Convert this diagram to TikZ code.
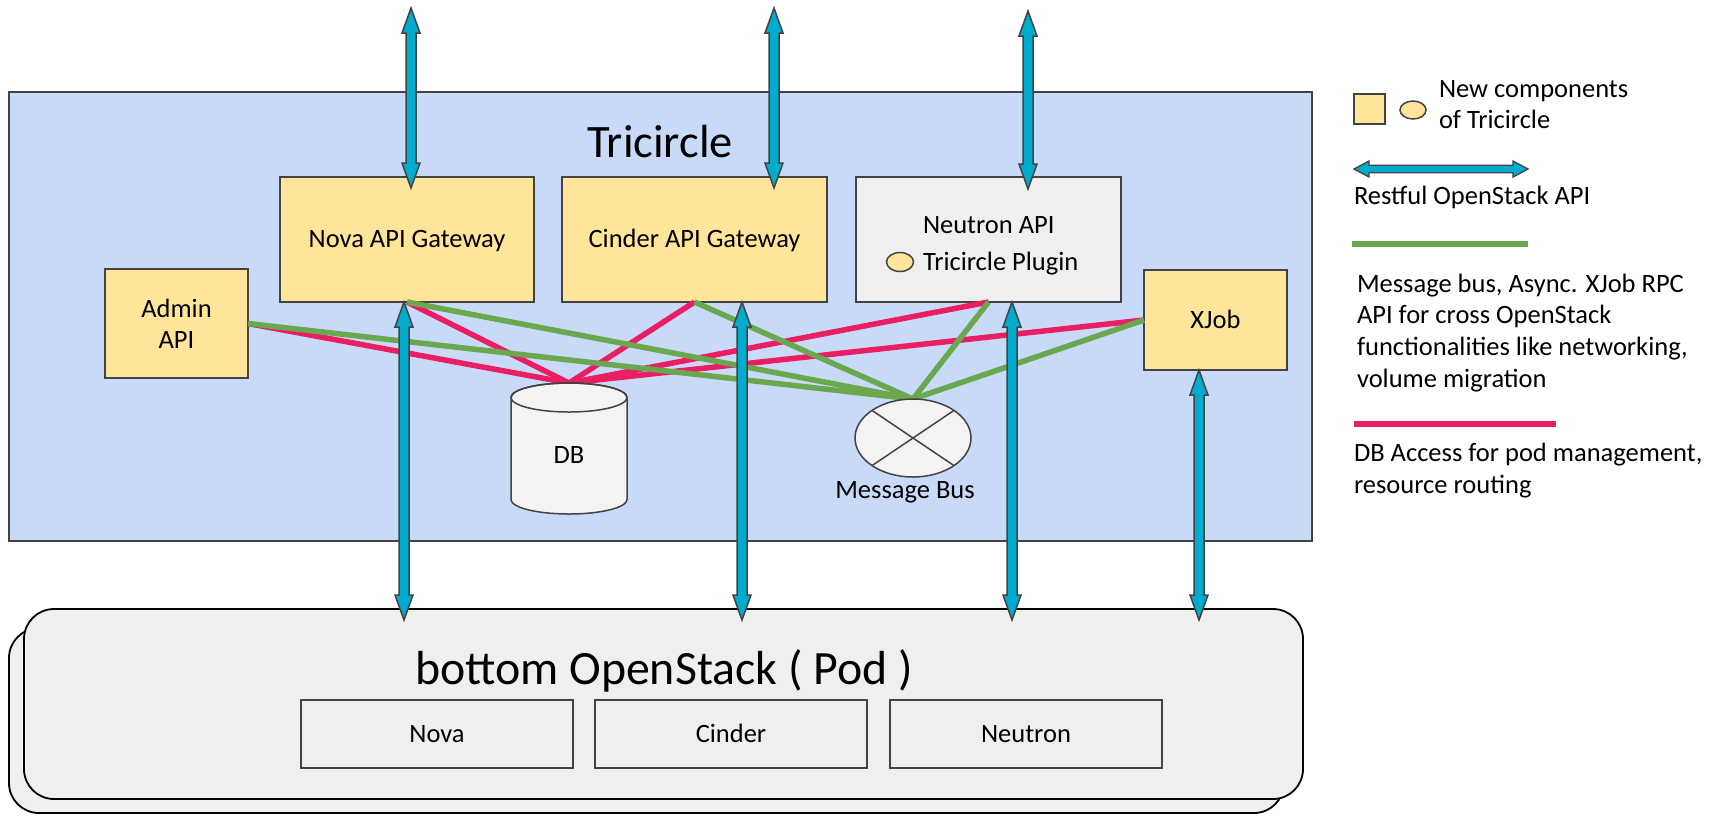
\documentclass[tikz,border=0pt]{standalone}
\usepackage{fontspec}
\setmainfont{Carlito}
\usetikzlibrary{calc,shapes.geometric}
\definecolor{bluebg}{HTML}{C9DAF8}
\definecolor{ylw}{HTML}{FFE599}
\definecolor{lgrey}{HTML}{EFEFEF}
\definecolor{dbgrey}{HTML}{F3F3F3}
\definecolor{edge}{HTML}{434343}
\definecolor{cyanA}{RGB}{0,172,205}
\definecolor{pinkL}{HTML}{E91E63}
\definecolor{greenL}{HTML}{6AA84F}
\newcommand{\fsm}{\fontsize{26.5}{32}\selectfont}
\newcommand{\fbg}{\fontsize{46.5}{56}\selectfont}
\newcommand{\fpod}{\fontsize{47.8}{57}\selectfont}
\begin{document}
\begin{tikzpicture}[x=1pt,y=-1pt,
  every node/.style={outer sep=0pt},
  box/.style={draw=edge, line width=1.8pt, inner sep=0pt, font=\fsm, text height=16.8pt, text depth=0pt},
  ybox/.style={box, fill=ylw},
  gbox/.style={box, fill=lgrey},
  txt/.style={inner sep=0pt, font=\fsm},
  bigtxt/.style={inner sep=0pt, font=\fbg},
  dbline/.style={draw=pinkL, line width=5.5pt},
  mbline/.style={draw=greenL, line width=5.5pt},
  apiarrow/.style={fill=cyanA, draw=edge, line width=1.5pt, line join=miter},
  vdbl/.style={to path={let \p1=(\tikztostart), \p2=(\tikztotarget) in
    (\x1,\y1) -- (\x1+9pt,\y1-25pt) -- (\x1+5pt,\y1-25pt) -- (\x1+5pt,\y2+25pt)
    -- (\x1+9pt,\y2+25pt) -- (\x1,\y2) -- (\x1-9pt,\y2+25pt) -- (\x1-5pt,\y2+25pt)
    -- (\x1-5pt,\y1-25pt) -- (\x1-9pt,\y1-25pt) -- cycle}},
  hdbl/.style={to path={let \p1=(\tikztostart), \p2=(\tikztotarget) in
    (\x1,\y1) -- (\x1+15pt,\y1+8pt) -- (\x1+15pt,\y1+3.7pt) -- (\x2-15pt,\y1+3.7pt)
    -- (\x2-15pt,\y1+8pt) -- (\x2,\y1) -- (\x2-15pt,\y1-8pt) -- (\x2-15pt,\y1-3.7pt)
    -- (\x1+15pt,\y1-3.7pt) -- (\x1+15pt,\y1-8pt) -- cycle}}
]
\useasboundingbox (0,0) rectangle (1721,815);
\fill[white] (0,0) rectangle (1721,815);

% main Tricircle area
\node[draw=edge, line width=1.5pt, fill=bluebg, minimum width=1303pt, minimum height=449pt] (tri) at (660.5,316.5) {};
\node[bigtxt, anchor=base] (trititle) at (660,157) {Tricircle};

% bottom pod
\node[draw=black, line width=1.8pt, fill=lgrey, rounded corners=30pt, minimum width=1275pt, minimum height=185pt] (podback) at (646.5,720.5) {};
\node[draw=black, line width=1.8pt, fill=lgrey, rounded corners=30pt, minimum width=1279pt, minimum height=190pt] (pod) at (663.5,704) {};
\node[inner sep=0pt, font=\fpod, anchor=base] (podtitle) at (664,684) {bottom OpenStack ( Pod )};
\node[gbox, minimum width=272pt, minimum height=68pt] (pnova) at (437,734) {Nova};
\node[gbox, minimum width=272pt, minimum height=68pt] (pcinder) at (731,734) {Cinder};
\node[gbox, minimum width=272pt, minimum height=68pt] (pneutron) at (1026,734) {Neutron};

% components
\node[ybox, minimum width=254pt, minimum height=125pt] (nova) at (407,239.5) {Nova API Gateway};
\node[ybox, minimum width=265pt, minimum height=125pt] (cinder) at (694.5,239.5) {Cinder API Gateway};
\node[gbox, minimum width=265pt, minimum height=125pt] (neutron) at (988.5,239.5) {};
\node[txt, anchor=base west] (ntitle) at (923,233) {Neutron API};
\node[txt, anchor=base west] (nplug) at (923,270) {Tricircle Plugin};
\node[draw=edge, line width=1.5pt, fill=ylw, ellipse, inner sep=0pt, minimum width=27pt, minimum height=19pt] (plugdot) at (900,262) {};
\node[ybox, minimum width=143pt, minimum height=109pt] (admin) at (176.5,323.5) {};
\node[txt, anchor=base] (admin1) at (176.5,317) {Admin};
\node[txt, anchor=base] (admin2) at (176.5,348) {API};
\node[ybox, minimum width=143pt, minimum height=100pt] (xjob) at (1215.5,320) {XJob};

% DB and message bus anchors
\node[minimum width=116pt, minimum height=131pt, inner sep=0pt] (db) at (569,448.5) {};
\node[ellipse, inner sep=0pt, minimum width=116pt, minimum height=78pt] (mb) at (913,438) {};

% DB access lines
\draw[dbline] (admin.east) -- (db.north);
\draw[dbline] (nova.south) -- (db.north);
\draw[dbline] (cinder.south) -- (db.north);
\draw[dbline] (neutron.south) -- (db.north);
\draw[dbline] (xjob.west) -- (db.north);
% message bus lines
\draw[mbline] (admin.east) -- (mb.north);
\draw[mbline] (nova.south) -- (mb.north);
\draw[mbline] (cinder.south) -- (mb.north);
\draw[mbline] (neutron.south) -- (mb.north);
\draw[mbline] (xjob.west) -- (mb.north);

% DB cylinder
\filldraw[fill=dbgrey, draw=edge, line width=1.5pt]
  ($(db.north west)+(0,14.5)$) -- ($(db.south west)+(0,-14.5)$)
  arc[start angle=180, end angle=360, x radius=58pt, y radius=14.5pt]
  -- ($(db.north east)+(0,14.5)$)
  arc[start angle=0, end angle=180, x radius=58pt, y radius=14.5pt] -- cycle;
\draw[edge, line width=1.5pt] ($(db.north)+(0,14.5)$) ellipse[x radius=58pt, y radius=14.5pt];
\node[txt, text height=16.8pt, text depth=0pt] (dblabel) at (569,455) {DB};

% message bus
\filldraw[fill=dbgrey, draw=edge, line width=1.5pt] (mb.center) ellipse[x radius=58pt, y radius=39pt];
\draw[edge, line width=1.5pt] ($(mb.center)+(-41,-27.6)$) -- ($(mb.center)+(41,27.6)$);
\draw[edge, line width=1.5pt] ($(mb.center)+(41,-27.6)$) -- ($(mb.center)+(-41,27.6)$);
\node[txt, text height=16.8pt, text depth=0pt] (mblabel) at (905,490) {Message Bus};

% Restful API arrows (top)
\coordinate (ntop) at (411,8);
\coordinate (nbot) at ($(nova.north -| ntop)+(0,11)$);
\coordinate (ctop) at (774,8);
\coordinate (cbot) at ($(cinder.north -| ctop)+(0,11)$);
\coordinate (etop) at (1028,11);
\coordinate (ebot) at ($(neutron.north -| etop)+(0,12)$);
\draw[apiarrow] (ntop) to[vdbl] (nbot);
\draw[apiarrow] (ctop) to[vdbl] (cbot);
\draw[apiarrow] (etop) to[vdbl] (ebot);

% Restful API arrows (bottom)
\coordinate (nb1) at ($(nova.south)+(-3,0)$);
\coordinate (nb2) at ($(nb1 |- pod.north)+(0,11)$);
\coordinate (cb1) at ($(cinder.south)+(47.5,0)$);
\coordinate (cb2) at ($(cb1 |- pod.north)+(0,11)$);
\coordinate (eb1) at ($(neutron.south)+(23.5,0)$);
\coordinate (eb2) at ($(eb1 |- pod.north)+(0,11)$);
\coordinate (xb1) at ($(xjob.south)+(-16.5,0)$);
\coordinate (xb2) at ($(xb1 |- pod.north)+(0,11)$);
\draw[apiarrow] (nb1) to[vdbl] (nb2);
\draw[apiarrow] (cb1) to[vdbl] (cb2);
\draw[apiarrow] (eb1) to[vdbl] (eb2);
\draw[apiarrow] (xb1) to[vdbl] (xb2);

% legend
\node[draw=edge, line width=1.5pt, fill=ylw, inner sep=0pt, minimum width=31pt, minimum height=30pt] (legsq) at (1369.5,109) {};
\node[draw=edge, line width=1.5pt, fill=ylw, ellipse, inner sep=0pt, minimum width=26pt, minimum height=18pt] (legdot) at (1413,110) {};
\node[txt, anchor=base west] (legnew1) at (1439,97) {New components};
\node[txt, anchor=base west] (legnew2) at (1439,128) {of Tricircle};
\coordinate (la) at (1354,169);
\coordinate (lb) at (1528,169);
\draw[apiarrow, line width=1.3pt] (la) to[hdbl] (lb);
\node[txt, anchor=base west] (legapi) at (1354,204) {Restful OpenStack API};
\coordinate (lg1) at (1352,244);
\coordinate (lg2) at (1528,244);
\draw[mbline] (lg1) -- (lg2);
\node[txt, anchor=base west] (legmb1) at (1357,292) {Message bus, Async. XJob RPC};
\node[txt, anchor=base west] (legmb2) at (1357,323.5) {API for cross OpenStack};
\node[txt, anchor=base west] (legmb3) at (1357,355) {functionalities like networking,};
\node[txt, anchor=base west] (legmb4) at (1357,387) {volume migration};
\coordinate (lp1) at (1354,424);
\coordinate (lp2) at (1556,424);
\draw[dbline] (lp1) -- (lp2);
\node[txt, anchor=base west] (legdb1) at (1354,461) {DB Access for pod management,};
\node[txt, anchor=base west] (legdb2) at (1354,493) {resource routing};
\end{tikzpicture}
\end{document}
